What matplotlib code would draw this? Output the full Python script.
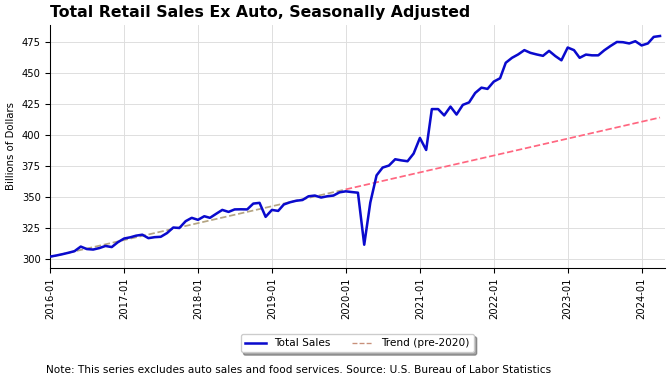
import matplotlib
matplotlib.use("Agg")
import matplotlib.pyplot as plt
import matplotlib.dates as mdates
from matplotlib.lines import Line2D
import pandas as pd

# monthly sales, billions of dollars, 2016-01 .. 2024-04
sales = [
    301.9, 302.8, 303.8, 305.0, 306.3, 310.0, 308.0, 307.6, 308.8, 310.5, 309.6, 313.5,
    316.5, 317.5, 318.8, 319.6, 316.8, 317.6, 317.9, 320.9, 325.4, 325.0, 330.5, 333.2,
    331.6, 334.5, 333.2, 336.5, 339.6, 338.0, 340.0, 340.1, 340.0, 344.7, 345.3, 334.0,
    339.6, 338.8, 344.0, 345.8, 347.0, 347.6, 350.6, 351.2, 349.6, 350.6, 351.2, 353.8,
    354.6, 354.0, 353.5, 311.5, 345.5, 367.5, 373.8, 375.4, 380.5, 379.6, 378.9, 385.1,
    397.7, 388.0, 421.0, 421.0, 415.9, 423.0, 416.6, 424.4, 426.4, 434.0, 438.3, 437.3,
    443.2, 445.9, 458.4, 462.4, 465.1, 468.6, 466.4, 465.1, 464.0, 468.0, 463.8, 460.4,
    470.7, 468.6, 462.4, 465.0, 464.4, 464.4, 468.5, 472.0, 475.2, 475.0, 474.0, 475.8,
    472.4, 474.0, 479.3, 480.0,
]
dates = pd.date_range("2016-01-01", periods=len(sales), freq="MS")

# linear trend fitted on pre-2020 data (start, 2020-01, end)
trend_dates = pd.to_datetime(["2016-01-01", "2020-01-01", "2024-04-01"])
trend_values = [301.6, 356.2, 414.2]

yticks = [300, 325, 350, 375, 400, 425, 450, 475]

fig = plt.figure(figsize=(7, 4), dpi=96)
ax = fig.add_axes([0.0744, 0.302, 0.915, 0.633])

ax.plot(trend_dates[:2], trend_values[:2], color="#b4a482", ls="--", lw=1.3, zorder=2)
ax.plot(trend_dates[1:], trend_values[1:], color="#ff6680", ls="--", lw=1.3, zorder=2)
ax.plot(dates, sales, color="#0a0acd", lw=1.9, zorder=3)

ax.set_xlim(pd.Timestamp("2016-01-01"), pd.Timestamp("2024-04-25"))
ax.set_yticks(yticks)
ax.xaxis.set_major_locator(mdates.YearLocator())
ax.xaxis.set_major_formatter(mdates.DateFormatter("%Y-%m"))
ax.tick_params(axis="x", rotation=90, labelsize=7.5)
ax.tick_params(axis="y", labelsize=7.5)
ax.grid(True, color="#dddddd", lw=0.7)
ax.set_axisbelow(True)
for s in ("top", "right"):
    ax.spines[s].set_visible(False)

ax.set_ylabel("Billions of Dollars", fontsize=7.6)
ax.set_title("Total Retail Sales Ex Auto, Seasonally Adjusted", loc="left",
             fontsize=11.8, fontweight="bold")

handles = [Line2D([], [], color="#0a0acd", lw=1.9),
           Line2D([], [], color="#c8907a", ls="--", lw=1.0)]
ax.legend(handles, ["Total Sales", "Trend (pre-2020)"], loc="upper center",
          bbox_to_anchor=(0.5, -0.25), ncol=2, fontsize=7.9, shadow=True,
          frameon=True)

fig.text(0.068, 0.036, "Note: This series excludes auto sales and food services. "
         "Source: U.S. Bureau of Labor Statistics", fontsize=7.85, va="center")

fig.savefig("out.png", dpi=96)
